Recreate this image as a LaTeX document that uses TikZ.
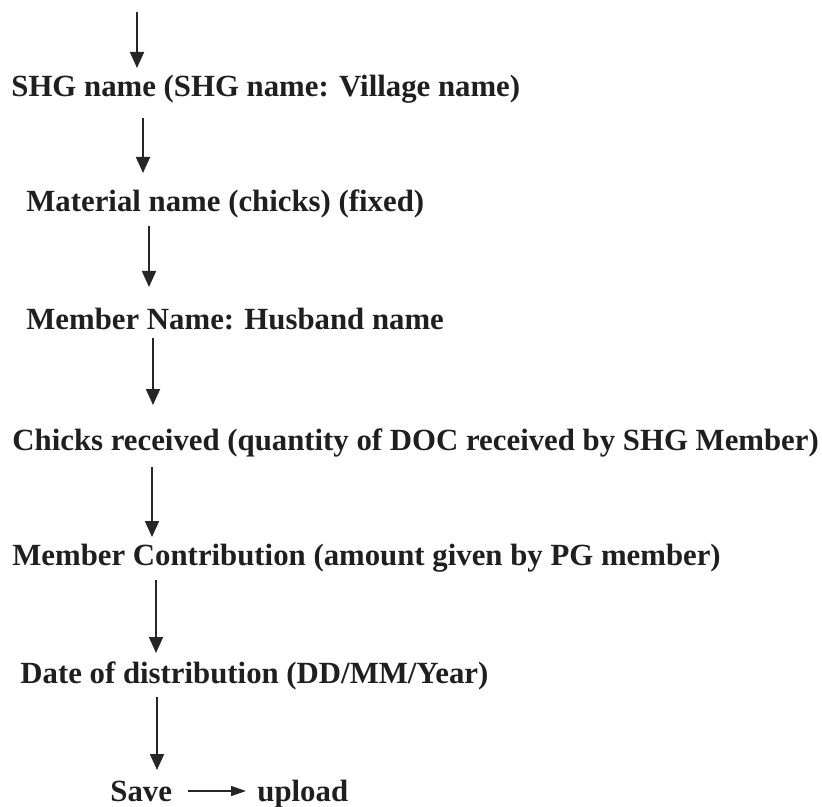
\documentclass[tikz,border=0pt]{standalone}
\usepackage{fontspec}
\setmainfont{Liberation Serif}
\usepackage{tikz}
\usetikzlibrary{arrows.meta}

\tikzset{
  label/.style={anchor=base west,inner sep=0pt,font=\bfseries\fontsize{15.4}{18}\selectfont,text=black!88},
  flow/.style={draw=black!85,line width=0.9pt,-{Triangle[length=8pt,width=7pt]}},
  smallflow/.style={draw=black!85,line width=0.7pt,-{Triangle[length=7.5pt,width=5pt]}}
}

\begin{document}
\begin{tikzpicture}[x=0.5pt,y=0.5pt]

  \useasboundingbox (0,0) rectangle (822,-806);

  \node[label] (shg) at (11,-97) {SHG name (SHG name: Village name)};
  \node[label] (mat) at (26,-212) {Material name (chicks) (fixed)};
  \node[label] (mem) at (26,-329) {Member Name: Husband name};
  \node[label] (chk) at (12,-450) {Chicks received (quantity of DOC received by SHG Member)};
  \node[label] (con) at (12,-565) {Member Contribution (amount given by PG member)};
  \node[label] (date) at (20,-683) {Date of distribution (DD/MM/Year)};
  \node[label] (save) at (110,-801) {Save};
  \node[label] (upl) at (257,-801) {upload};

  \coordinate (top) at (137,-12);

  \draw[flow] (top) -- ([shift={(126,29)}]shg.base west);
  \draw[flow] ([shift={(132,-21)}]shg.base west) -- ([shift={(117,39)}]mat.base west);
  \draw[flow] ([shift={(123,-14)}]mat.base west) -- ([shift={(123,42)}]mem.base west);
  \draw[flow] ([shift={(127,-9)}]mem.base west) -- ([shift={(141,45)}]chk.base west);
  \draw[flow] ([shift={(140,-17)}]chk.base west) -- ([shift={(140,28)}]con.base west);
  \draw[flow] ([shift={(144,-15)}]con.base west) -- ([shift={(136,30)}]date.base west);
  \draw[flow] ([shift={(137,-14)}]date.base west) -- ([shift={(47,31)}]save.base west);

  \draw[smallflow] ([shift={(16,10)}]save.base east) -- ([shift={(-11,10)}]upl.base west);
\end{tikzpicture}
\end{document}
